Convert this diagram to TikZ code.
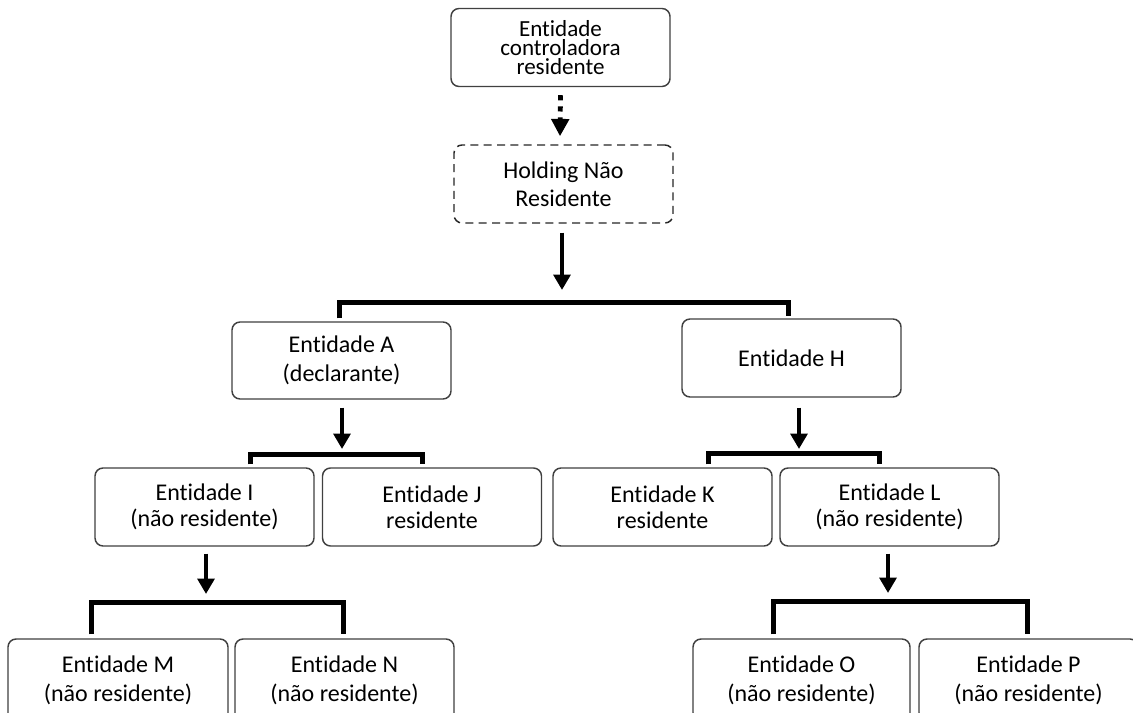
\documentclass[tikz,border=0pt]{standalone}
\usepackage{fontspec}
\setmainfont{Carlito}[Ligatures=NoCommon]
\usetikzlibrary{arrows.meta,calc}
\begin{document}
\begin{tikzpicture}[x=0.75pt,y=-0.75pt,
  box/.style={draw=black!75, line width=1.1pt, rounded corners=6pt, fill=white,
    minimum width=164.25pt, minimum height=58.5pt, inner sep=0pt, align=center,
    font=\fontsize{18}{22}\selectfont},
  rowthree/.style={font=\fontsize{18}{19.75}\selectfont},
  rowfour/.style={minimum height=61.5pt},
  dashbox/.style={box, draw=black!85, dash pattern=on 6pt off 4pt, font=\fontsize{18}{21}\selectfont},
  arr/.style={line width=3.4pt, -{Triangle[length=11.5pt,width=12.5pt]}},
  dotarr/.style={line width=3.6pt, dash pattern=on 3.9pt off 4.4pt, -{Triangle[length=13pt,width=13pt]}},
  bracket/.style={line width=3.75pt}]
\useasboundingbox (0,0) rectangle (1133,713);
\fill[white] (0,0) rectangle (1133,713);
\clip (0,0) rectangle (1133,713);

\node[box, font=\fontsize{17.3}{14.3}\selectfont] (top) at (560.5,47.5) {Entidade\\controladora\\residente};
\node[dashbox] (hold) at (563.5,184) {Holding Não\\Residente};

\node[box, minimum height=57.75pt] (A) at (341.5,360.5) {Entidade A\\(declarante)};
\node[box] (H) at (791.5,358) {Entidade H};

\node[box, rowthree] (I) at (204.5,507) {Entidade I\\(não residente)};
\node[box, rowthree] (J) at (432,507) {Entidade J\\residente};
\node[box, rowthree] (K) at (662.5,507) {Entidade K\\residente};
\node[box, rowthree] (L) at (889.5,507) {Entidade L\\(não residente)};

\node[box, rowfour, minimum width=165pt] (M) at (118,680) {Entidade M\\(não residente)};
\node[box, rowfour] (N) at (344.5,680) {Entidade N\\(não residente)};
\node[box, rowfour, minimum width=162.75pt] (O) at (801.5,680) {Entidade O\\(não residente)};
\node[box, rowfour] (P) at (1028.5,680) {Entidade P\\(não residente)};

% bracket corners
\coordinate (b1l) at (339,303);  \coordinate (b1r) at (788,303);
\coordinate (b2l) at (250,454);  \coordinate (b2r) at (422,454);
\coordinate (b3l) at (708,453);  \coordinate (b3r) at (879,453);
\coordinate (b4l) at (91,602);   \coordinate (b4r) at (343,602);
\coordinate (b5l) at (773,601);  \coordinate (b5r) at (1027,601);

% dotted arrow
\draw[dotarr] ($(top.south)+(0,8)$) -- ($(hold.north)+(-3.5,-8)$);

% arrows
\draw[arr] ($(hold.south)+(-1.5,9)$) -- ($(hold.south |- b1l)+(-1.5,-13)$);
\draw[arr] ($(A.south)+(0.5,8)$) -- ($(A.south |- b2l)+(0.5,-5)$);
\draw[arr] ($(H.south)+(7.5,10)$) -- ($(H.south |- b3l)+(7.5,-4)$);
\draw[arr] ($(I.south)+(1.5,7)$) -- ($(I.south |- b4l)+(1.5,-8)$);
\draw[arr] ($(L.south)+(-1.5,7)$) -- ($(L.south |- b5l)+(-1.5,-8)$);

% brackets
\draw[bracket] ($(b1l |- A.north)+(0,-3)$) -- (b1l) -- (b1r) -- ($(b1r |- H.north)+(0,-2)$);
\draw[bracket] ($(b2l |- I.north)+(0,-3)$) -- (b2l) -- (b2r) -- ($(b2r |- J.north)+(0,-3)$);
\draw[bracket] ($(b3l |- K.north)+(0,-3)$) -- (b3l) -- (b3r) -- ($(b3r |- L.north)+(0,-3)$);
\draw[bracket] ($(b4l |- M.north)+(0,-4)$) -- (b4l) -- (b4r) -- ($(b4r |- N.north)+(0,-4)$);
\draw[bracket] ($(b5l |- O.north)+(0,-4)$) -- (b5l) -- (b5r) -- ($(b5r |- P.north)+(0,-4)$);
\end{tikzpicture}
\end{document}
